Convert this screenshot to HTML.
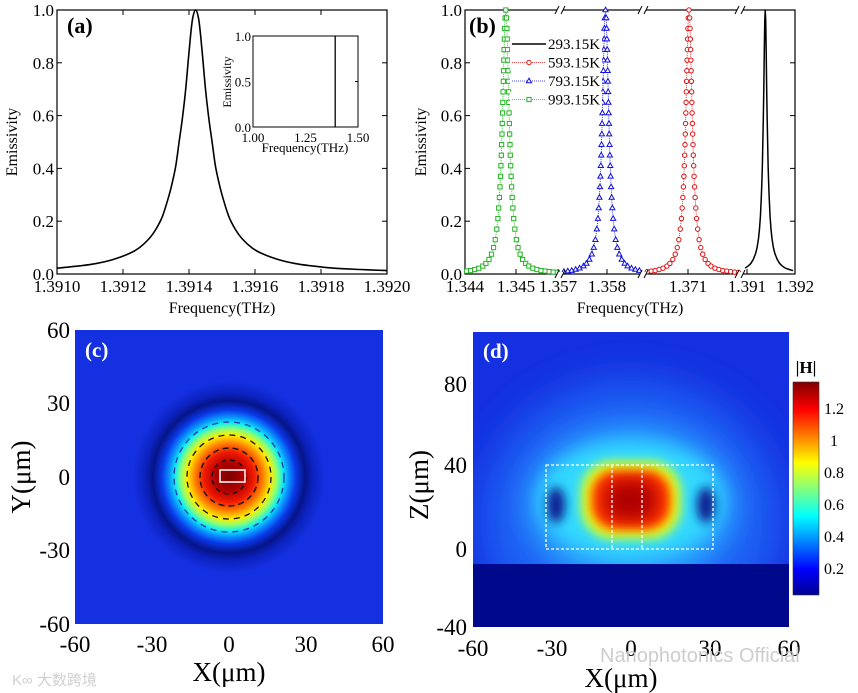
<!DOCTYPE html>
<html><head><meta charset="utf-8"><style>
html,body{margin:0;padding:0;background:#fff;}
svg{display:block;font-family:"Liberation Serif",serif;}
</style></head><body>
<svg id="fig" width="858" height="693" viewBox="0 0 858 693" xmlns="http://www.w3.org/2000/svg">
<defs>
 <radialGradient id="gc" cx="229" cy="477" r="100" gradientUnits="userSpaceOnUse">
  <stop offset="0" stop-color="#7a0000"/><stop offset="0.14" stop-color="#b00000"/>
  <stop offset="0.25" stop-color="#f01a00"/><stop offset="0.34" stop-color="#ff8000"/>
  <stop offset="0.42" stop-color="#ffee00"/><stop offset="0.48" stop-color="#90ff70"/>
  <stop offset="0.54" stop-color="#10f0f0"/><stop offset="0.60" stop-color="#0a90ff"/>
  <stop offset="0.67" stop-color="#0a38e8"/><stop offset="0.76" stop-color="#061488"/>
  <stop offset="0.84" stop-color="#0c22c0"/><stop offset="0.96" stop-color="#1430e0"/>
  <stop offset="1" stop-color="#1430e0"/>
 </radialGradient>
 <linearGradient id="cb" x1="0" y1="1" x2="0" y2="0">
  <stop offset="0" stop-color="#000090"/><stop offset="0.12" stop-color="#0000ff"/>
  <stop offset="0.37" stop-color="#00ffff"/><stop offset="0.62" stop-color="#ffff00"/>
  <stop offset="0.87" stop-color="#ff0000"/><stop offset="1" stop-color="#800000"/>
 </linearGradient>
 <filter id="bl8" x="-50%" y="-50%" width="200%" height="200%"><feGaussianBlur stdDeviation="8"/></filter>
 <filter id="bl5" x="-50%" y="-50%" width="200%" height="200%"><feGaussianBlur stdDeviation="5"/></filter>
 <filter id="bl14" x="-50%" y="-50%" width="200%" height="200%"><feGaussianBlur stdDeviation="14"/></filter>
 <filter id="bl20" x="-50%" y="-50%" width="200%" height="200%"><feGaussianBlur stdDeviation="20"/></filter>
 <clipPath id="clipd"><rect x="473" y="332" width="316" height="232"/></clipPath>
</defs>

<!-- ===== Panel (c) ===== -->
<g>
 <rect x="75" y="330" width="308" height="294" fill="url(#gc)"/>
 <g fill="none">
  <circle cx="229" cy="477" r="17" stroke="#111" stroke-width="1.4" stroke-dasharray="5 4"/>
  <circle cx="229" cy="477" r="29" stroke="#111" stroke-width="1.4" stroke-dasharray="6 4"/>
  <circle cx="229" cy="477" r="42" stroke="#111" stroke-width="1.3" stroke-dasharray="6 5"/>
  <circle cx="229" cy="477" r="55" stroke="#1838b0" stroke-width="1.3" stroke-dasharray="6 5"/>
 </g>
 <rect x="220" y="470" width="25" height="12" fill="none" stroke="#fff" stroke-width="1.5"/>
 <text x="85" y="357" font-size="21" font-weight="bold" fill="#fff">(c)</text>
 <g font-size="23" fill="#000">
  <text x="70" y="338" text-anchor="end">60</text>
  <text x="70" y="411" text-anchor="end">30</text>
  <text x="70" y="485" text-anchor="end">0</text>
  <text x="70" y="558" text-anchor="end">-30</text>
  <text x="70" y="632" text-anchor="end">-60</text>
  <text x="75" y="652" text-anchor="middle">-60</text>
  <text x="152" y="652" text-anchor="middle">-30</text>
  <text x="229" y="652" text-anchor="middle">0</text>
  <text x="306" y="652" text-anchor="middle">30</text>
  <text x="383" y="652" text-anchor="middle">60</text>
  <text x="229" y="681" text-anchor="middle" font-size="27">X(μm)</text>
  <text transform="translate(30,477) rotate(-90)" text-anchor="middle" font-size="27">Y(μm)</text>
 </g>
 <text x="12" y="685" font-size="15" fill="#d0d0d0" font-family="'Liberation Sans','Noto Sans CJK SC',sans-serif">K∞ 大数跨境</text>
</g>

<!-- ===== Panel (d) ===== -->
<g>
 <rect x="473" y="332" width="316" height="295" fill="#1430e0"/>
 <g clip-path="url(#clipd)">
  <ellipse cx="631" cy="520" rx="150" ry="140" fill="#1c60f4" filter="url(#bl20)"/>
  <ellipse cx="631" cy="505" rx="105" ry="80" fill="#2aa8ff" filter="url(#bl14)"/>
  <ellipse cx="631" cy="500" rx="92" ry="58" fill="#30d8ff" filter="url(#bl8)"/>
  <ellipse cx="556" cy="505" rx="9" ry="18" fill="#0a1a90" filter="url(#bl5)"/>
  <ellipse cx="706" cy="505" rx="9" ry="18" fill="#0a1a90" filter="url(#bl5)"/>
  <rect x="580" y="460" width="102" height="80" rx="32" fill="#a0ff60" filter="url(#bl5)"/>
  <rect x="586" y="466" width="90" height="68" rx="28" fill="#ffee00" filter="url(#bl5)"/>
  <rect x="592" y="471" width="78" height="58" rx="24" fill="#ff3000" filter="url(#bl5)"/>
  <rect x="605" y="480" width="52" height="40" rx="16" fill="#b00000" filter="url(#bl8)"/>
 </g>
 <rect x="473" y="564" width="316" height="63" fill="#00088c"/>
 <g fill="none" stroke="#fff" stroke-width="1.3" stroke-dasharray="3 2">
  <rect x="546" y="465" width="167" height="84"/>
  <line x1="612" y1="465" x2="612" y2="549"/>
  <line x1="642" y1="465" x2="642" y2="549"/>
 </g>
 <text x="483" y="358" font-size="21" font-weight="bold" fill="#fff">(d)</text>
 <g font-size="23" fill="#000">
  <text x="467" y="392" text-anchor="end">80</text>
  <text x="467" y="473" text-anchor="end">40</text>
  <text x="467" y="557" text-anchor="end">0</text>
  <text x="467" y="635" text-anchor="end">-40</text>
  <text x="473" y="656" text-anchor="middle">-60</text>
  <text x="552" y="656" text-anchor="middle">-30</text>
  <text x="631" y="656" text-anchor="middle">0</text>
  <text x="710" y="656" text-anchor="middle">30</text>
  <text x="789" y="656" text-anchor="middle">60</text>
  <text x="621" y="687" text-anchor="middle" font-size="27">X(μm)</text>
  <text transform="translate(428,485) rotate(-90)" text-anchor="middle" font-size="27">Z(μm)</text>
 </g>
 <g>
  <rect x="793" y="382" width="26" height="213" fill="url(#cb)" stroke="#333" stroke-width="0.6"/>
  <text x="806" y="373" text-anchor="middle" font-size="17" font-weight="bold">|H|</text>
  <g font-size="16">
   <text x="824" y="414">1.2</text><text x="830" y="446">1</text>
   <text x="824" y="478">0.8</text><text x="824" y="510">0.6</text>
   <text x="824" y="542">0.4</text><text x="824" y="574">0.2</text>
  </g>
 </g>
 <text x="600" y="662" font-size="20" fill="#c8c8c8" fill-opacity="0.9" font-family="'Liberation Sans',sans-serif">Nanophotonics Official</text>
</g>

<g id="panelA"></g>
<g id="panelB"></g>
</svg>

<script>
// ---------- data: panel (a), 293.15K spectrum (offsets in 1e-5 THz from centre) ----------
const centerA = 1.39142;
const offsetsA = [-42,-35,-30,-25,-20,-17,-14,-12,-10,-8,-7,-6,-5,-4,-3,-2,-1,0,1,2,3,4,5,6,7,8,10,12,14,17,20,25,30,35,42,50,58];
const emisA   = [0.022,0.031,0.040,0.055,0.078,0.100,0.135,0.170,0.220,0.300,0.350,0.410,0.500,0.590,0.700,0.840,0.960,1.000,0.960,0.840,0.700,0.590,0.500,0.410,0.350,0.300,0.220,0.170,0.135,0.100,0.078,0.055,0.040,0.031,0.022,0.017,0.013];
const xTicksA = ["1.3910","1.3912","1.3914","1.3916","1.3918","1.3920"];
const yTicks = ["0.0","0.2","0.4","0.6","0.8","1.0"];
const insetXTicks = ["1.00","1.25","1.50"];
const insetYTicks = ["0.0","0.5","1.0"];
const insetLineFreq = 1.3914;

// ---------- data: panel (b) ----------
const seriesNames = ["293.15K","593.15K","793.15K","993.15K"];
const centerGreen = 1.34480;
const centerBlue  = 1.35797;
const centerRed   = 1.37102;
const centerBlackB = 1.39138;
// one-sided resonance profile shared by the marker series (offset in 1e-5 THz, emissivity)
const peakOffsets = [0,1.4,2.2,2.8,3.4,3.9,4.4,4.9,5.4,5.9,6.4,7.0,7.5,8.2,8.8,9.6,10.4,11.4,12.5,13.9,15.5,17.7,20.7,24,28,33,39,45,53,61,69,77,85,93,101,109,117,125,133,141,149,157,165,173,181];
const peakEmis    = [1.0,0.97,0.93,0.89,0.85,0.81,0.77,0.73,0.69,0.65,0.61,0.57,0.53,0.49,0.45,0.41,0.37,0.33,0.29,0.25,0.21,0.17,0.13,0.10,0.075,0.055,0.040,0.030,0.022,0.017,0.013,0.011,0.009,0.0073,0.0062,0.0053,0.0046,0.0041,0.0036,0.0032,0.0029,0.0026,0.0023,0.0021,0.0019];
const xTickLabelsB = ["1.344","1.345","1.357","1.358","1.371","1.391","1.392"];
const xTickValuesB = [1.344,1.345,1.357,1.358,1.371,1.391,1.392];

const NS = "http://www.w3.org/2000/svg";
function mk(tag, attrs, parent, txt){
  const e = document.createElementNS(NS, tag);
  for (const k in attrs) e.setAttribute(k, attrs[k]);
  if (txt !== undefined) e.textContent = txt;
  parent.appendChild(e); return e;
}
function mirrored(center, offs, vals){
  const f=[], v=[];
  for (let i=offs.length-1;i>0;i--){ f.push(center-offs[i]*1e-5); v.push(vals[i]); }
  for (let i=0;i<offs.length;i++){ f.push(center+offs[i]*1e-5); v.push(vals[i]); }
  return [f,v];
}

// ---------- panel (a) ----------
(function(){
  const g = document.getElementById('panelA');
  const L=57,R=387,T=10,B=274;
  const xa = f => L + (f-1.391)/0.001*(R-L);
  const ya = v => B - v*(B-T);
  const frame = mk('rect',{x:L,y:T,width:R-L,height:B-T,fill:'none',stroke:'#000','stroke-width':1.2},g);
  
  
  yTicks.forEach(t=>{
    const y=ya(parseFloat(t));
    mk('line',{x1:L,y1:y,x2:L+5,y2:y,stroke:'#000'},g);
    mk('line',{x1:R,y1:y,x2:R-5,y2:y,stroke:'#000'},g);
    const tx = mk('text',{x:L-3,y:y+6,'text-anchor':'end','font-size':17},g,t);
    
    
  });
  xTicksA.forEach(t=>{
    const x=xa(parseFloat(t));
    mk('line',{x1:x,y1:B,x2:x,y2:B-5,stroke:'#000'},g);
    mk('line',{x1:x,y1:T,x2:x,y2:T+5,stroke:'#000'},g);
    const tx = mk('text',{x:x,y:292,'text-anchor':'middle','font-size':17},g,t);
    
    
  });
  const xt = mk('text',{x:222,y:313,'text-anchor':'middle','font-size':16},g,'Frequency(THz)');
  
  
  const yt = mk('text',{transform:'translate(17,142) rotate(-90)','text-anchor':'middle','font-size':16},g,'Emissivity');
  
  
  const lab = mk('text',{x:67,y:33,'font-size':22,'font-weight':'bold'},g,'(a)');
  
  
  const pts = offsetsA.map((o,i)=>{ const f=centerA+o*1e-5; return [xa(f),ya(emisA[i])]; });
  let d = 'M'+pts[0][0].toFixed(2)+','+pts[0][1].toFixed(2);
  for (let i=1;i<pts.length;i++){
    const p0=pts[Math.max(0,i-2)],p1=pts[i-1],p2=pts[i],p3=pts[Math.min(pts.length-1,i+1)];
    const c1x=p1[0]+(p2[0]-p0[0])/6,c1y=p1[1]+(p2[1]-p0[1])/6;
    const c2x=p2[0]-(p3[0]-p1[0])/6,c2y=p2[1]-(p3[1]-p1[1])/6;
    d+=` C${c1x.toFixed(2)},${c1y.toFixed(2)} ${c2x.toFixed(2)},${c2y.toFixed(2)} ${p2[0].toFixed(2)},${p2[1].toFixed(2)}`;
  }
  const line = mk('path',{d:d,fill:'none',stroke:'#000','stroke-width':1.6,'stroke-linejoin':'round'},g);
  
  
  // inset
  const iL=253,iR=358,iT=36,iB=127;
  const xi = f => iL + (f-1.0)/0.5*(iR-iL);
  const yi = v => iB - v*(iB-iT);
  const ifr = mk('rect',{x:iL,y:iT,width:iR-iL,height:iB-iT,fill:'#fff',stroke:'#000','stroke-width':1},g);
  
  
  insetYTicks.forEach(t=>{
    const y=yi(parseFloat(t));
    mk('text',{x:iL-2,y:y+5,'text-anchor':'end','font-size':13},g,t);
    mk('line',{x1:iR,y1:y,x2:iR-3,y2:y,stroke:'#000'},g);
  });
  insetXTicks.forEach(t=>{
    const x=xi(parseFloat(t));
    mk('text',{x:x,y:142,'text-anchor':'middle','font-size':13},g,t);
  });
  mk('text',{x:305,y:152,'text-anchor':'middle','font-size':13},g,'Frequency(THz)');
  mk('text',{transform:'translate(231,82) rotate(-90)','text-anchor':'middle','font-size':12},g,'Emissivity');
  const il = mk('line',{x1:xi(insetLineFreq),y1:iB,x2:xi(insetLineFreq),y2:iT,stroke:'#000','stroke-width':1.3},g);
  
  
})();

// ---------- panel (b) ----------
(function(){
  const g = document.getElementById('panelB');
  const L=465,R=795,T=10,B=274;
  const segs = [
    {x0:465,x1:560,ref:1.344,refX:465,px:51},
    {x0:560,x1:643,ref:1.357,refX:558,px:49},
    {x0:643,x1:740,ref:1.371,refX:688,px:49},
    {x0:740,x1:795,ref:1.391,refX:747,px:48}
  ];
  const xb = (f,s) => s.refX + (f-s.ref)/0.001*s.px;
  const yb = v => B - v*(B-T);
  const frame = mk('rect',{x:L,y:T,width:R-L,height:B-T,fill:'none',stroke:'#000','stroke-width':1.2},g);
  
  
  yTicks.forEach(t=>{
    const y=yb(parseFloat(t));
    mk('line',{x1:L,y1:y,x2:L+5,y2:y,stroke:'#000'},g);
    mk('line',{x1:R,y1:y,x2:R-5,y2:y,stroke:'#000'},g);
    const tx = mk('text',{x:L-3,y:y+6,'text-anchor':'end','font-size':17},g,t);
    
    
  });
  xTickValuesB.forEach((v,i)=>{
    let s = segs[0];
    if (v>=1.391) s=segs[3]; else if (v>=1.371) s=segs[2]; else if (v>=1.357) s=segs[1];
    const x = xb(v,s);
    mk('line',{x1:x,y1:B,x2:x,y2:B-5,stroke:'#000'},g);
    const tx = mk('text',{x:x,y:292,'text-anchor':'middle','font-size':17},g,xTickLabelsB[i]);
    
    
  });
  const xt = mk('text',{x:630,y:313,'text-anchor':'middle','font-size':16},g,'Frequency(THz)');
  
  
  const yt = mk('text',{transform:'translate(426,142) rotate(-90)','text-anchor':'middle','font-size':16},g,'Emissivity');
  
  

  function drawMarker(par,x,y,color,marker){
    if (marker==='circle') mk('circle',{cx:x,cy:y,r:2.2,fill:'#fff',stroke:color,'stroke-width':1},par);
    else if (marker==='tri') mk('polygon',{points:`${x},${y-2.8} ${x-2.6},${y+1.8} ${x+2.6},${y+1.8}`,fill:'#fff',stroke:color,'stroke-width':1},par);
    else mk('rect',{x:x-2.1,y:y-2.1,width:4.2,height:4.2,fill:'#fff',stroke:color,'stroke-width':1},par);
  }
  function drawSeries(freqs, vals, s, color, marker, name){
    const sg = mk('g',{},g);
    
    
    const pts=[];
    freqs.forEach((f,i)=>{
      const x=xb(f,s);
      if (x < s.x0+1 || x > s.x1-1) return;
      pts.push([x,yb(vals[i])]);
    });
    const ptsStr = pts.map(p=>p[0].toFixed(2)+','+p[1].toFixed(2)).join(' ');
    if (marker==='line'){
      mk('polyline',{points:ptsStr,fill:'none',stroke:color,'stroke-width':1.5,'stroke-linejoin':'round'},sg);
      return;
    }
    mk('polyline',{points:ptsStr,fill:'none',stroke:color,'stroke-width':0.8,'stroke-dasharray':'1 1'},sg);
    pts.forEach(p=>drawMarker(sg,p[0],p[1],color,marker));
  }
  const gS = mirrored(centerGreen, peakOffsets, peakEmis);
  const bS = mirrored(centerBlue, peakOffsets, peakEmis);
  const rS = mirrored(centerRed, peakOffsets, peakEmis);
  const kF = offsetsA.map(o=>centerBlackB+o*1e-5);
  drawSeries(gS[0], gS[1], segs[0], '#22b422', 'square', 'series-993K');
  drawSeries(bS[0], bS[1], segs[1], '#1010e0', 'tri', 'series-793K');
  drawSeries(rS[0], rS[1], segs[2], '#e01010', 'circle', 'series-593K');
  drawSeries(kF, emisA, segs[3], '#000', 'line', 'series-293K');

  [560,643,740].forEach(x=>{
    [T,B].forEach(y=>{
      const bk = mk('g',{},g);
      
      
      mk('rect',{x:x-3,y:y-2,width:6,height:4,fill:'#fff'},bk);
      mk('line',{x1:x-5,y1:y+4,x2:x-1,y2:y-4,stroke:'#000','stroke-width':1},bk);
      mk('line',{x1:x+1,y1:y+4,x2:x+5,y2:y-4,stroke:'#000','stroke-width':1},bk);
    });
  });

  const lab = mk('text',{x:469,y:33,'font-size':22,'font-weight':'bold'},g,'(b)');
  
  

  const lg = mk('g',{},g);
  
  
  const legColors=['#000','#e01010','#1010e0','#22b422'];
  const legMarkers=['line','circle','tri','square'];
  seriesNames.forEach((n,i)=>{
    const y = 44 + i*18.5;
    const e = mk('g',{},lg);
    
    
    mk('rect',{x:510,y:y-8,width:92,height:16,fill:'#fff'},e);
    if (legMarkers[i]==='line') mk('line',{x1:512,y1:y,x2:546,y2:y,stroke:'#000','stroke-width':1.5},e);
    else {
      mk('line',{x1:512,y1:y,x2:546,y2:y,stroke:legColors[i],'stroke-width':0.8,'stroke-dasharray':'1 1'},e);
      drawMarker(e,529,y,legColors[i],legMarkers[i]);
    }
    mk('text',{x:548,y:y+5,'font-size':15},e,n);
  });
})();
</script>
</body></html>
